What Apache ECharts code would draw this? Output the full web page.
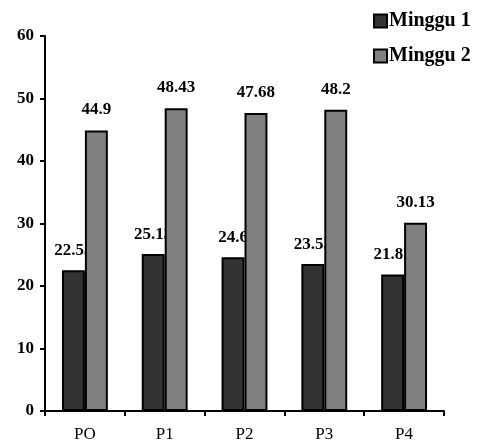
<!DOCTYPE html>
<html>
<head>
<meta charset="utf-8">
<script src="https://cdn.jsdelivr.net/npm/echarts@6/dist/echarts.min.js"></script>
<style>html,body{margin:0;padding:0;background:#fff;}#c{width:479px;height:444px;}</style>
</head>
<body>
<div id="c"></div>
<script>
var categories = ['PO', 'P1', 'P2', 'P3', 'P4'];
var minggu1 = [22.53, 25.13, 24.6, 23.53, 21.85];
var minggu2 = [44.9, 48.43, 47.68, 48.2, 30.13];
var seriesNames = ['Minggu 1', 'Minggu 2'];
var yTicks = { min: 0, max: 60, interval: 10 };

var font = "'Liberation Serif', 'Times New Roman', serif";
var chart = echarts.init(document.getElementById('c'), null, { renderer: 'canvas' });
var labelStyle = {
  show: true, position: 'top', distance: 11,
  fontFamily: font, fontWeight: 'bold', fontSize: 17, color: '#000'
};
chart.setOption({
  animation: false,
  backgroundColor: '#fff',
  grid: { left: 45, right: 35, top: 36, bottom: 33, containLabel: false },
  legend: {
    orient: 'vertical', left: 368, top: 6, icon: 'rect',
    itemWidth: 13, itemHeight: 13, itemGap: 15,
    textStyle: { fontFamily: font, fontWeight: 'bold', fontSize: 20, color: '#000', padding: [0, 0, 0, -3] },
    data: seriesNames
  },
  xAxis: {
    type: 'category', data: categories,
    axisLine: { lineStyle: { color: '#000', width: 2 } },
    axisTick: { show: true, alignWithLabel: false, length: 5, lineStyle: { color: '#000', width: 2 } },
    axisLabel: { fontFamily: font, fontSize: 17, color: '#000', margin: 15 }
  },
  yAxis: {
    type: 'value', min: yTicks.min, max: yTicks.max, interval: yTicks.interval,
    splitLine: { show: false },
    axisLine: { show: true, lineStyle: { color: '#000', width: 2 } },
    axisTick: { show: true, length: 5, lineStyle: { color: '#000', width: 2 } },
    axisLabel: { fontFamily: font, fontWeight: 'bold', fontSize: 17, color: '#000', margin: 11 }
  },
  series: [
    {
      name: seriesNames[0], type: 'bar', data: minggu1, z: 2,
      barGap: '0%', barCategoryGap: '42.5%',
      itemStyle: { color: '#333333', borderColor: '#000', borderWidth: 2, borderRadius: 0 },
      label: labelStyle
    },
    {
      name: seriesNames[1], type: 'bar', data: minggu2, z: 3,
      barGap: '0%', barCategoryGap: '42.5%',
      itemStyle: { color: '#808080', borderColor: '#000', borderWidth: 2, borderRadius: 0 },
      label: Object.assign({}, labelStyle, { distance: 12 })
    }
  ]
});
</script>
</body>
</html>
